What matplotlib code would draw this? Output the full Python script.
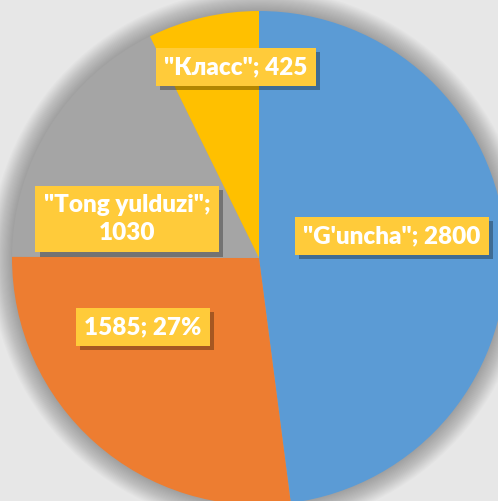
import matplotlib.pyplot as plt
import matplotlib.patheffects as pe
from matplotlib.patches import Circle

# данные
names = ['"G\'uncha"', '1585', '"Tong yulduzi"', '"Класс"']
values = [2800, 1585, 1030, 425]
colors = ['#5B9BD5', '#ED7D31', '#A5A5A5', '#FFC000']
labels = ['"G\'uncha"; 2800', '1585; 27%', '"Tong yulduzi";\n1030', '"Класс"; 425']
label_pos = [(392, 236), (143, 327), (127, 219), (236, 67)]

W, H = 498, 501
cx, cy, R = 259, 258, 247

fig = plt.figure(figsize=(W / 100, H / 100), dpi=100)
fig.patch.set_facecolor('#E7E7E7')
ax = fig.add_axes([0, 0, 1, 1])

# мягкая тень вокруг круга
for i in range(20, 0, -1):
    ax.add_patch(Circle((cx, H - cy), R + i * 1.1, color='black', alpha=0.014, lw=0, zorder=0))

ax.pie(values, colors=colors, startangle=90, counterclock=False,
       center=(cx, H - cy), radius=R, frame=True,
       wedgeprops=dict(linewidth=0))
ax.set_xlim(0, W)
ax.set_ylim(0, H)
ax.set_aspect('equal')
ax.axis('off')

for txt, (x, y) in zip(labels, label_pos):
    t = ax.text(x, H - y, txt, ha='center', va='center', color='white',
                fontsize=17.5, fontweight='heavy', family=['Lato', 'DejaVu Sans'],
                linespacing=1.35, zorder=5,
                bbox=dict(boxstyle='square,pad=0.34', fc='#FFCB3A', lw=0))
    t.get_bbox_patch().set_path_effects([
        pe.SimplePatchShadow(offset=(3, -3), shadow_rgbFace='#000000', alpha=0.3),
        pe.Normal()])

fig.savefig('out.png', dpi=100, facecolor=fig.get_facecolor())
